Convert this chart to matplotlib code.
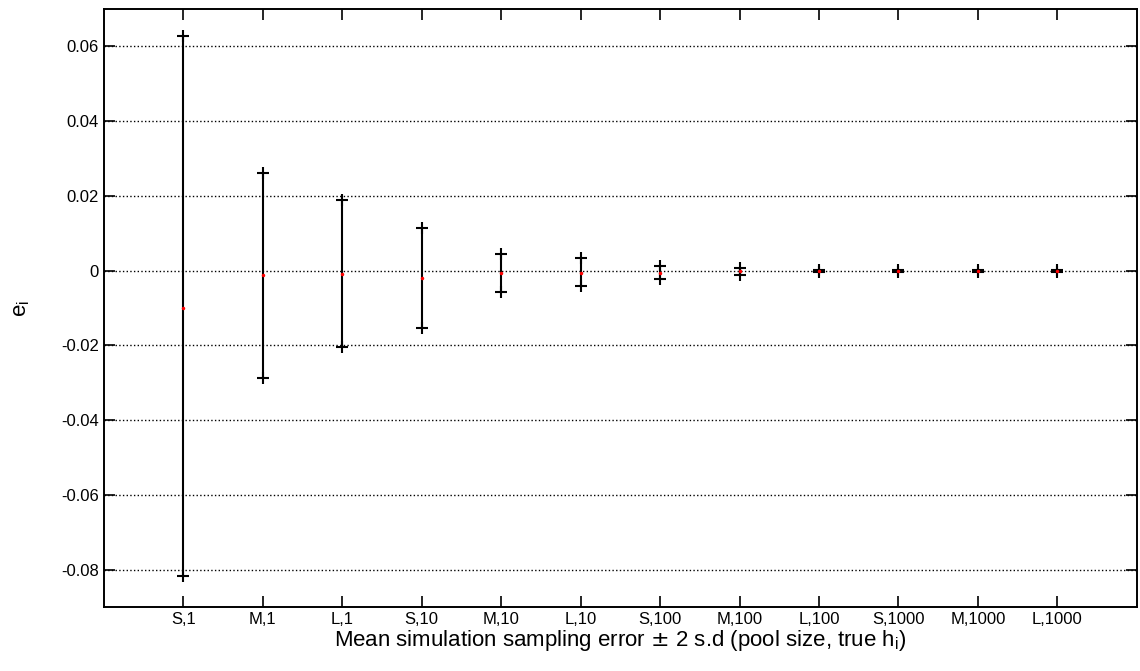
import matplotlib
matplotlib.use('Agg')
import matplotlib.pyplot as plt
import numpy as np

plt.rcParams['font.family'] = ['Liberation Sans Narrow', 'Liberation Sans', 'DejaVu Sans']

labels = ['S,1', 'M,1', 'L,1', 'S,10', 'M,10', 'L,10',
          'S,100', 'M,100', 'L,100', 'S,1000', 'M,1000', 'L,1000']
means = [-0.0099, -0.0012, -0.0008, -0.0020, -0.0005, -0.0005,
         -0.0005, -0.0002, -0.0001, -0.0001, -0.0001, -0.0001]
upper = [0.0627, 0.0262, 0.0188, 0.0114, 0.0046, 0.0033,
         0.0012, 0.0006, 0.0002, 0.0002, 0.0002, 0.0002]
lower = [-0.0817, -0.0286, -0.0204, -0.0153, -0.0056, -0.0042,
         -0.0022, -0.0011, -0.0004, -0.0004, -0.0004, -0.0004]

x = np.arange(1, len(labels) + 1)
means = np.array(means)
upper = np.array(upper)
lower = np.array(lower)

fig = plt.figure(figsize=(11.4, 6.71), dpi=100)
ax = fig.add_axes([0.0912, 0.0954, 0.906, 0.891])

# vertical bars
ax.vlines(x, lower, upper, color='k', lw=1.5, zorder=3)
# MATLAB-like '+' end caps
ax.plot(x, upper, '+', color='k', ms=9, mew=1.5, zorder=4)
ax.plot(x, lower, '+', color='k', ms=9, mew=1.5, zorder=4)
# mean points
ax.plot(x, means, '.', color='red', ms=3, zorder=5)

ax.set_xlim(0, 13)
ax.set_ylim(-0.09, 0.07)
ax.set_xticks(x)
ax.set_xticklabels(labels)
yt = np.arange(-0.08, 0.061, 0.02)
ax.set_yticks(yt)
ax.set_yticklabels(['%g' % v if abs(v) > 1e-9 else '0' for v in yt])

ax.yaxis.grid(True, linestyle=':', color='k', lw=1)
ax.set_axisbelow(True)
ax.tick_params(direction='in', top=True, right=True, length=8, width=1.2, labelsize=12)
for s in ax.spines.values():
    s.set_linewidth(1.4)

ax.set_xlabel('Mean simulation sampling error $\\pm$ 2 s.d (pool size, true h$_\\mathregular{i}$)',
              fontsize=16, labelpad=1)
ax.set_ylabel('e$_\\mathregular{i}$', fontsize=16)
ax.yaxis.set_label_coords(-0.07, 0.5)

fig.savefig('out.png', dpi=100)
